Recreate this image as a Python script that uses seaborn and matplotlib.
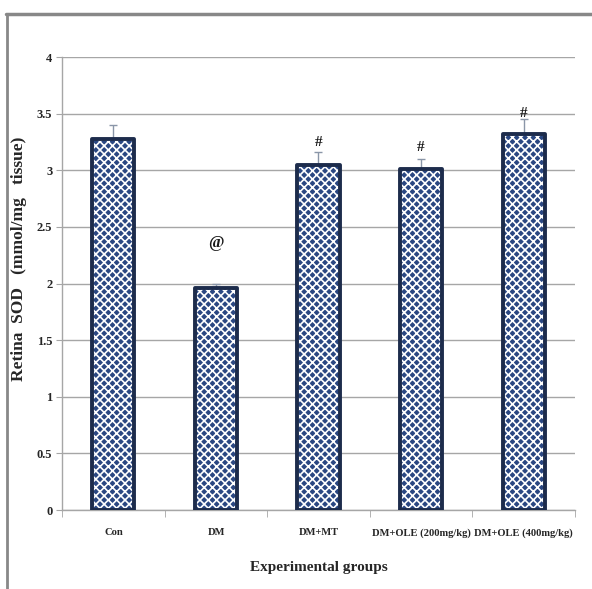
import matplotlib
matplotlib.use("Agg")
import matplotlib.pyplot as plt
import seaborn as sns
import numpy as np
import pandas as pd
from matplotlib.lines import Line2D
from matplotlib.patches import Rectangle

groups = ["Con", "DM", "DM+MT", "DM+OLE (200mg/kg)", "DM+OLE (400mg/kg)"]
means = [3.28, 1.96, 3.05, 3.01, 3.32]
errors = [0.12, 0.04, 0.11, 0.09, 0.13]
marks = ["", "@", "#", "#", "#"]
mark_y = [None, 2.36, 3.25, 3.20, 3.50]
yticks = [0, 0.5, 1, 1.5, 2, 2.5, 3, 3.5, 4]
ytick_labels = ["0", "0.5", "1", "1.5", "2", "2.5", "3", "3.5", "4"]

sns.set_style("white")
plt.rcParams["font.family"] = ["Liberation Serif", "DejaVu Serif"]
plt.rcParams["hatch.linewidth"] = 1.2

df = pd.DataFrame({"group": groups, "value": means})

fig = plt.figure(figsize=(5.92, 5.89), dpi=100)
ax = fig.add_axes([0.105, 0.134, 0.866, 0.769])

ax.set_axisbelow(True)
ax.yaxis.grid(True, color="#a6a6a6", linewidth=1.0)
ax.xaxis.grid(False)

sns.barplot(data=df, x="group", y="value", order=groups, color="#2a4782",
            width=0.41, errorbar=None, ax=ax, zorder=2)
navy = "#1d2c4c"
for p in list(ax.patches):
    p.set_facecolor("#2a4782")
    p.set_edgecolor("white")
    p.set_hatch("xxxx")
    p.set_linewidth(0)
    ax.add_patch(Rectangle(p.get_xy(), p.get_width(), p.get_height(),
                           fill=False, edgecolor=navy, linewidth=2.8,
                           zorder=3, joinstyle="round"))

xs = np.arange(len(groups))
ax.errorbar(xs, means, yerr=[np.zeros(len(means)), errors], fmt="none",
            ecolor="#8a96a8", elinewidth=1.0, capsize=3, capthick=1.0, zorder=1)

for x, m, yy in zip(xs, marks, mark_y):
    if m:
        ax.text(x, yy, m, ha="center", va="center",
                fontsize=12 if m == "@" else 11,
                fontweight="bold", color="#1a1a1a")

ax.set_ylim(0, 4)
ax.set_xlim(-0.5, len(groups) - 0.5)
ax.set_yticks(yticks)
ax.set_yticklabels(ytick_labels, fontsize=9, fontweight="bold")
ax.set_xticks(xs)
ax.set_xticklabels(groups, fontsize=7.6, fontweight="bold")
ax.tick_params(axis="x", length=0, pad=13)
ax.tick_params(axis="y", length=4, color="#a6a6a6", direction="out", pad=3, left=True)
ax.set_xticks(np.arange(len(groups) + 1) - 0.5, minor=True)
ax.tick_params(axis="x", which="minor", length=5, color="#a6a6a6", direction="out", bottom=True)

for s in ["top", "right"]:
    ax.spines[s].set_visible(False)
for s in ["left", "bottom"]:
    ax.spines[s].set_color("#a6a6a6")
    ax.spines[s].set_linewidth(1.0)

ax.set_xlabel("Experimental groups", fontsize=11, fontweight="bold")
ax.xaxis.set_label_coords(0.5, -0.112)
ax.set_ylabel("Retina  SOD   (mmol/mg   tissue)", fontsize=12.5, fontweight="bold")
ax.yaxis.set_label_coords(-0.068, 0.555)

fig.add_artist(Line2D([0.010, 1.0], [0.977, 0.977], transform=fig.transFigure,
                      color="#888888", linewidth=2.5))
fig.add_artist(Line2D([0.011, 0.011], [0.0, 0.977], transform=fig.transFigure,
                      color="#888888", linewidth=2.0))

fig.savefig("out.png", dpi=100)
